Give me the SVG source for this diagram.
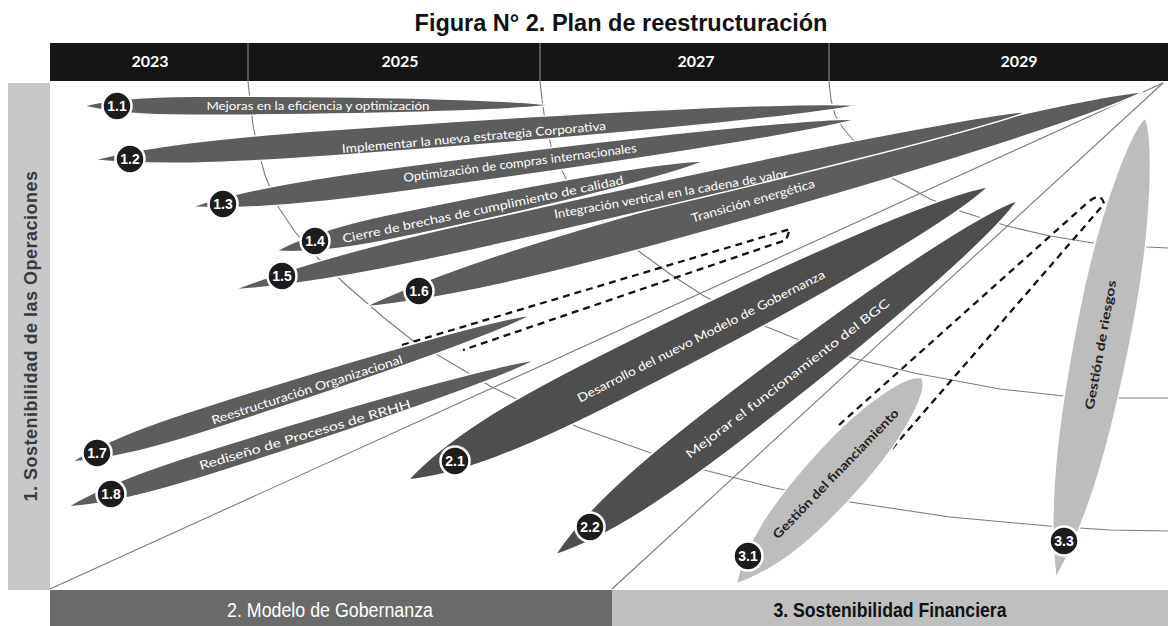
<svg xmlns="http://www.w3.org/2000/svg" width="1168" height="626" viewBox="0 0 1168 626">
<style>
.grid{fill:none;stroke:#7a7a7a;stroke-width:1.1}
.dash{fill:none;stroke:#111;stroke-width:2.3;stroke-dasharray:7 5}
.lf1{fill:#5d5d5d;stroke:#fff;stroke-width:1.5}
.lf2{fill:#4e4e4e;stroke:#fff;stroke-width:1.5}
.lf3{fill:#bdbdbd;stroke:#fff;stroke-width:1.5}
.nc{fill:#1c1c1c;stroke:#fff;stroke-width:2.5}
.nt{fill:#fff;font-family:'Liberation Sans',Arial,sans-serif;font-weight:bold;font-size:14px;text-anchor:middle}
.lb{fill:#fff;font-family:Lato,'Open Sans',sans-serif;font-size:12px;text-anchor:middle}
.lb3{fill:#222;font-family:Lato,'Open Sans',sans-serif;font-weight:bold;font-size:12.5px;text-anchor:middle}
.yr{fill:#fff;font-family:Lato,'Open Sans',sans-serif;font-weight:bold;font-size:16px;text-anchor:middle}
</style>
<rect width="1168" height="626" fill="#fff"/>
<text x="621" y="31" font-family="'Liberation Sans',Arial,sans-serif" font-weight="bold" font-size="23.5" text-anchor="middle" fill="#111">Figura N° 2. Plan de reestructuración</text>

<g id="header">
<rect x="50" y="43" width="1118" height="38" fill="#151515"/>
<path d="M248,43V81M540,43V81M829,43V81" stroke="#9a9a9a" stroke-width="1"/>
<text class="yr" x="150" y="67">2023</text>
<text class="yr" x="400" y="67">2025</text>
<text class="yr" x="696" y="67">2027</text>
<text class="yr" x="1019" y="67">2029</text>
</g>

<g id="axis-1">
<rect x="8" y="83" width="42" height="507" fill="#c8c8c8"/>
<text transform="translate(36.5,336) rotate(-90)" font-family="'Liberation Sans',Arial,sans-serif" font-weight="bold" font-size="18" letter-spacing="0.5" text-anchor="middle" fill="#3a3a3a">1. Sostenibilidad de las Operaciones</text>
</g>
<g id="axis-2">
<rect x="50" y="590" width="562" height="36" fill="#6a6a6a"/>
<text x="330" y="617" font-family="'Liberation Sans',Arial,sans-serif" font-size="20" textLength="206" lengthAdjust="spacingAndGlyphs" text-anchor="middle" fill="#fff">2. Modelo de Gobernanza</text>
</g>
<g id="axis-3">
<rect x="612" y="590" width="556" height="36" fill="#bfbfbf"/>
<text x="890" y="617" font-family="'Liberation Sans',Arial,sans-serif" font-weight="bold" font-size="20" textLength="233" lengthAdjust="spacingAndGlyphs" text-anchor="middle" fill="#111">3. Sostenibilidad Financiera</text>
</g>

<g id="connectors">
<path class="grid" d="M1163,83L50,589"/>
<path class="grid" d="M1163,83L612,589"/>
<path class="grid" d="M248,81L250,100L253,125L258,150L265,175L277,205L295,232L318,258L345,284L383,317L412,340L443,358L490,386L535,408L580,428L651,453L704,470L775,488L850,502L950,517L1049,526L1110,530L1168,531"/>
<path class="grid" d="M540,81L542,100L545,120L552,150L568,183L598,218L633,247L670,274L704,296L767,327L794,338L856,359L914,373L1000,389L1064,396L1120,398L1168,398"/>
<path class="grid" d="M829,81L831,100L835,115L843,128L855,142L870,160L890,177L930,199L963,212L1007,226L1050,236L1093,243L1147,247L1168,248"/>
<path class="dash" d="M402,345L790,229L786,240L463,350"/>
<path class="dash" d="M839,425L1086,204Q1101,190 1104,204L891,450"/>
</g>

<g id="n18">
<path class="lf1" transform="translate(67,507) rotate(-17.4)" d="M0,0C37.5,-9 82.5,-12 150,-12C354.9,-12 464.2,-5.4 491.5,0C464.2,5.4 354.9,12 150,12C82.5,12 37.5,9 0,0Z"/>
<text class="lb" transform="translate(305,435) rotate(-16.5)" y="4" font-size="13" textLength="220" lengthAdjust="spacingAndGlyphs">Rediseño de Procesos de RRHH</text>
<circle class="nc" cx="111" cy="494" r="14.5"/><text class="nt" x="111" y="499">1.8</text>
</g>
<g id="n17">
<path class="lf1" transform="translate(71,462) rotate(-17.69)" d="M0,0C35,-9 77,-12 140,-12C346.3,-12 456.5,-5.4 484,0C456.5,5.4 346.3,12 140,12C77,12 35,9 0,0Z"/>
<text class="lb" transform="translate(307,390) rotate(-18)" y="4" textLength="200" lengthAdjust="spacingAndGlyphs">Reestructuración Organizacional</text>
<circle class="nc" cx="97" cy="453" r="14.5"/><text class="nt" x="97" y="458">1.7</text>
</g>
<g id="n16">
<path class="lf1" transform="translate(364,307) rotate(-15.43)" d="M0,0C80,-13.5 176,-18 320,-18C612.8,-18 769,-8.1 808,0C769,8.1 612.8,18 320,18C176,18 80,13.5 0,0Z"/>
<text class="lb" transform="translate(753,201) rotate(-16)" y="4" textLength="128" lengthAdjust="spacingAndGlyphs">Transición energética</text>
<circle class="nc" cx="419" cy="291" r="14.5"/><text class="nt" x="419" y="296">1.6</text>
</g>
<g id="n15">
<path class="lf1" transform="translate(233,290) rotate(-12.66)" d="M0,0C65,-10.1 143,-13.5 260,-13.5C594,-13.5 772.5,-6.1 817,0C772.5,6.1 594,13.5 260,13.5C143,13.5 65,10.1 0,0Z"/>
<text class="lb" transform="translate(671,194) rotate(-10)" y="4" textLength="237" lengthAdjust="spacingAndGlyphs">Integración vertical en la cadena de valor</text>
<circle class="nc" cx="282" cy="276" r="14.5"/><text class="nt" x="282" y="281">1.5</text>
</g>
<g id="n14">
<path class="lf1" transform="translate(276,251) rotate(-11.85)" d="M0,0C30,-9 66,-12.5 120,-12.5C310.8,-12.5 412.6,-5.6 438,0C412.6,5.6 310.8,12.5 120,12.5C66,12.5 30,9 0,0Z"/>
<text class="lb" transform="translate(483,209.5) rotate(-11.9)" y="4" textLength="287" lengthAdjust="spacingAndGlyphs">Cierre de brechas de cumplimiento de calidad</text>
<circle class="nc" cx="315" cy="241" r="14.5"/><text class="nt" x="315" y="246">1.4</text>
</g>
<g id="n13">
<path class="lf1" transform="translate(191,207) rotate(-7.52)" d="M0,0C50,-9.4 110,-12.5 200,-12.5C483.8,-12.5 635.2,-5.6 673,0C635.2,5.6 483.8,12.5 200,12.5C110,12.5 50,9.4 0,0Z"/>
<text class="lb" transform="translate(520,163) rotate(-7.3)" y="4" textLength="235" lengthAdjust="spacingAndGlyphs">Optimización de compras internacionales</text>
<circle class="nc" cx="223" cy="204" r="14.5"/><text class="nt" x="223" y="209">1.3</text>
</g>
<g id="n12">
<path class="lf1" transform="translate(93,160) rotate(-4.1)" d="M0,0C57.5,-9.75 126.5,-13 230,-13C552.2,-13 724,-5.85 767,0C724,5.85 552.2,13 230,13C126.5,13 57.5,9.75 0,0Z"/>
<text class="lb" transform="translate(474,137.5) rotate(-5)" y="4" textLength="265" lengthAdjust="spacingAndGlyphs">Implementar la nueva estrategia Corporativa</text>
<circle class="nc" cx="130" cy="159" r="14.5"/><text class="nt" x="130" y="164">1.2</text>
</g>
<g id="n11">
<path class="lf1" transform="translate(83,106) rotate(-0.12)" d="M0,0C27.5,-7.1 60.5,-9.5 110,-9.5C324.8,-9.5 439.4,-4.3 468,0C439.4,4.3 324.8,9.5 110,9.5C60.5,9.5 27.5,7.1 0,0Z"/>
<text class="lb" x="318" y="110" textLength="223" lengthAdjust="spacingAndGlyphs">Mejoras en la eficiencia y optimización</text>
<circle class="nc" cx="117" cy="106" r="14.5"/><text class="nt" x="117" y="111">1.1</text>
</g>
<g id="n21">
<path class="lf2" transform="translate(408,480) rotate(-26.81)" d="M0,0C50,-18.75 115,-25 220,-25C480,-25 613.8,-11.25 650,0C613.8,11.25 480,25 220,25C115,25 50,18.75 0,0Z"/>
<text class="lb" transform="translate(701,336) rotate(-27)" y="4.5" font-size="13.5" textLength="276" lengthAdjust="spacingAndGlyphs">Desarrollo del nuevo Modelo de Gobernanza</text>
<circle class="nc" cx="455" cy="461" r="14.5"/><text class="nt" x="455" y="466">2.1</text>
</g>
<g id="n22">
<path class="lf2" transform="translate(555,555) rotate(-37.48)" d="M0,0C50,-17.25 115,-23 220,-23C440,-23 553,-10.35 583,0C553,10.35 440,23 220,23C115,23 50,17.25 0,0Z"/>
<text class="lb" transform="translate(787,378) rotate(-37.5)" y="5" font-size="15" textLength="253" lengthAdjust="spacingAndGlyphs">Mejorar el funcionamiento del BGC</text>
<circle class="nc" cx="590" cy="527" r="14.5"/><text class="nt" x="590" y="532">2.2</text>
</g>
<g id="n31">
<path class="lf3" transform="translate(736,584) rotate(-47.9)" d="M0,0C37.5,-21 82.5,-28 150,-28C220,-28 272,-14 277.5,0C272,14 220,28 150,28C82.5,28 37.5,21 0,0Z"/>
<text class="lb3" transform="translate(836,474) rotate(-46)" y="4" textLength="175" lengthAdjust="spacingAndGlyphs">Gestión del financiamiento</text>
<circle class="nc" cx="748" cy="556" r="14.5"/><text class="nt" x="748" y="561">3.1</text>
</g>
<g id="n33">
<path class="lf3" transform="translate(1056,578) rotate(-79.05)" d="M0,0C65,-21 143,-28 260,-28C374.7,-28 459,-10 468.5,0C459,10 374.7,28 260,28C143,28 65,21 0,0Z"/>
<text class="lb3" transform="translate(1101,345) rotate(-80)" y="4" font-size="13" textLength="131" lengthAdjust="spacingAndGlyphs">Gestión de riesgos</text>
<circle class="nc" cx="1064" cy="541" r="14.5"/><text class="nt" x="1064" y="546">3.3</text>
</g>
</svg>
